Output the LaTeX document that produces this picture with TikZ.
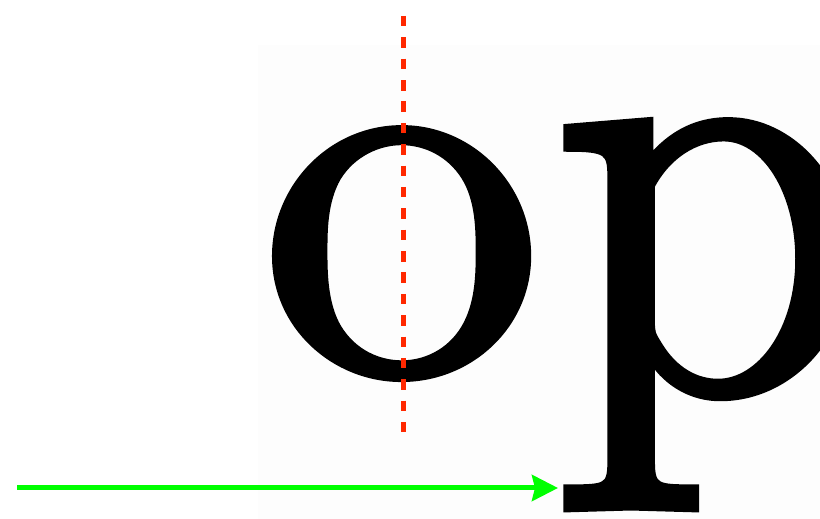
\documentclass[tikz,border=0pt]{standalone}
\usepackage{fontspec}
\newfontfamily\glyphface[FakeBold=1.5]{lmroman10-regular.otf}
\usetikzlibrary{arrows.meta}
\definecolor{guidered}{RGB}{255,40,0}
\definecolor{arrowgreen}{RGB}{0,255,0}
\definecolor{scan}{gray}{0.992}
\begin{document}
\begin{tikzpicture}[x=1pt,y=1pt,
  glyphs/.style={font=\glyphface\fontsize{542}{600}\selectfont, inner sep=0pt, outer sep=0pt, anchor=base west, xscale=1.044},
  guide/.style={draw=guidered, line width=5pt, dash pattern=on 10.5pt off 10.87pt},
  pointer/.style={draw=arrowgreen, line width=5pt, -{Stealth[length=26pt,width=26pt,inset=3pt]}}
]
\useasboundingbox (0,0) rectangle (820,519);
\clip (0,0) rectangle (820,519);
\fill[scan] (258,0) rectangle (820,474);
\node[glyphs] (word) at (260.4,147) {o\kern8pt\raisebox{-18pt}{\scalebox{1}[1.12]{p}}};
\coordinate (guidetop) at (403,503);
\coordinate (guidebottom) at (403,87);
\draw[guide] (guidetop) -- (guidebottom);
\coordinate (arrowstart) at (17,31);
\coordinate (arrowtip) at (558,31);
\draw[pointer] (arrowstart) -- (arrowtip);
\end{tikzpicture}
\end{document}
